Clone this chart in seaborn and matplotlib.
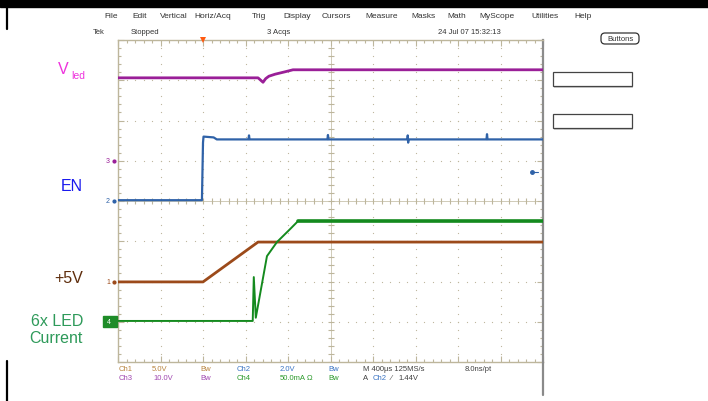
import numpy as np
import matplotlib
matplotlib.use("Agg")
import matplotlib.pyplot as plt
from matplotlib.patches import Rectangle, FancyBboxPatch, Arc
import seaborn as sns

# time axis in ms (400 us/div, 10 div); levels in screen divisions
vled_t = [0.0, 1.318, 1.365, 1.39, 1.42, 1.478, 1.572, 1.647, 4.0]
vled_y = [3.06, 3.06, 2.95, 3.04, 3.10, 3.15, 3.21, 3.26, 3.26]

en_t = [0.0, 0.790, 0.800, 0.805, 0.900, 0.930, 1.228, 1.233, 1.238,
        1.971, 1.976, 1.981, 2.724, 2.727, 2.731, 2.734, 3.468, 3.473, 3.478, 4.0]
en_y = [0.02, 0.02, 1.45, 1.60, 1.58, 1.53, 1.53, 1.63, 1.53,
        1.53, 1.64, 1.53, 1.53, 1.63, 1.45, 1.53, 1.53, 1.66, 1.53, 1.53]

v5_t = [0.0, 0.800, 1.318, 4.0]
v5_y = [-2.01, -2.01, -1.02, -1.02]

led_t = [0.0, 1.268, 1.278, 1.297, 1.402, 1.496, 1.619, 1.694, 4.0]
led_y = [-2.98, -2.98, -1.89, -2.90, -1.37, -1.02, -0.70, -0.50, -0.50]

menu_labels = ["File", "Edit", "Vertical", "Horiz/Acq", "Trig", "Display", "Cursors",
               "Measure", "Masks", "Math", "MyScope", "Utilities", "Help"]
menu_x = [104, 132, 160, 194, 252, 283, 322, 365, 411, 447, 479, 531, 574]

PURPLE = "#9a1f98"
BLUE = "#2f62a8"
BROWN = "#9c4a1a"
GREEN = "#148a1e"
GRID = "#bdb69c"

sns.set_theme(style="white")
plt.rcParams['font.family'] = ['Liberation Sans', 'DejaVu Sans']

fig = plt.figure(figsize=(7.08, 4.02), dpi=100)
fig.patch.set_facecolor("white")

# scope graticule
ax = fig.add_axes([118 / 708, 1 - 363 / 402, 425 / 708, 322 / 402])
ax.set_xlim(0, 4.0)
ax.set_ylim(-4, 4)
ax.set_facecolor("white")
for s in ax.spines.values():
    s.set_color(GRID)
    s.set_linewidth(1.0)
ax.spines["right"].set_color("#8c8c8c")
ax.spines["right"].set_linewidth(1.6)
ax.set_xticks(np.arange(0, 4.01, 0.4))
ax.set_yticks(np.arange(-4, 4.01, 1))
ax.set_xticks(np.arange(0, 4.01, 0.08), minor=True)
ax.set_yticks(np.arange(-4, 4.01, 0.2), minor=True)
ax.tick_params(which="both", direction="in", top=True, right=True, bottom=True, left=True,
               labelbottom=False, labelleft=False, color=GRID, width=0.8)
ax.tick_params(which="major", length=4)
ax.tick_params(which="minor", length=2.5)
ax.grid(False)

# dotted grid lines
gx, gy = np.meshgrid(np.arange(0.4, 3.61, 0.4), np.arange(-4, 4.01, 0.2))
ax.scatter(gx.ravel(), gy.ravel(), s=0.8, color=GRID, linewidths=0, zorder=1)
hx, hy = np.meshgrid(np.arange(0, 4.01, 0.08), np.arange(-3, 3.01, 1))
ax.scatter(hx.ravel(), hy.ravel(), s=0.8, color=GRID, linewidths=0, zorder=1)
# centre crosshair ticks
cy = np.arange(-4, 4.01, 0.2)
ax.plot(np.full_like(cy, 2.0), cy, ls="none", marker="_", ms=5, mew=0.8, color=GRID, zorder=1)
cx = np.arange(0, 4.01, 0.08)
ax.plot(cx, np.zeros_like(cx), ls="none", marker="|", ms=5, mew=0.8, color=GRID, zorder=1)
ax.axvline(2.0, color=GRID, lw=0.5, zorder=1)
ax.axhline(0.0, color=GRID, lw=0.5, zorder=1)

# traces
sns.lineplot(x=vled_t, y=vled_y, ax=ax, color=PURPLE, lw=2.0, sort=False, estimator=None, zorder=3)
sns.lineplot(x=en_t, y=en_y, ax=ax, color=BLUE, lw=1.6, sort=False, estimator=None, zorder=3)
sns.lineplot(x=v5_t, y=v5_y, ax=ax, color=BROWN, lw=2.0, sort=False, estimator=None, zorder=3)
sns.lineplot(x=led_t, y=led_y, ax=ax, color=GREEN, lw=1.4, sort=False, estimator=None, zorder=4)
sns.lineplot(x=led_t[-2:], y=led_y[-2:], ax=ax, color=GREEN, lw=2.6, sort=False, estimator=None, zorder=4)
ax.set_xlabel("")
ax.set_ylabel("")

# overlay in pixel coordinates
ov = fig.add_axes([0, 0, 1, 1])
ov.set_xlim(0, 708)
ov.set_ylim(402, 0)
ov.axis("off")
ov.patch.set_alpha(0)

# black slide bar at top (with glyph fragments of the cut-off title) and edge lines
ov.add_patch(Rectangle((0, 0), 708, 8, color="black", zorder=1))
for gxp in (266, 388):
    ov.add_patch(Arc((gxp, 2), 9, 8, theta1=200, theta2=340, color="white", lw=1.4, zorder=2))
ov.plot([7, 7], [0, 30], color="black", lw=1.6)
ov.plot([7, 7], [362, 402], color="black", lw=1.6)
ov.plot([543, 543], [363, 396], color="#8a8a8a", lw=1.6)

# menu bar
for lab, xx in zip(menu_labels, menu_x):
    ov.text(xx, 16, lab, fontsize=6, color="#333333", va="center", ha="left")
ov.text(93, 33, "Tek", fontsize=5.5, color="#333333", va="center")
ov.text(131, 33, "Stopped", fontsize=5.5, color="#333333", va="center")
ov.text(267, 33, "3 Acqs", fontsize=5.5, color="#333333", va="center")
ov.text(438, 33, "24 Jul 07 15:32:13", fontsize=5.5, color="#333333", va="center")
ov.add_patch(FancyBboxPatch((601, 34), 38, 11, boxstyle="round,pad=0,rounding_size=4",
                            fc="white", ec="#333333", lw=0.9))
ov.text(620, 39.5, "Buttons", fontsize=5.5, color="#333333", va="center", ha="center")

# right side boxes
for top in (73, 115):
    ov.add_patch(Rectangle((554, top + 1), 79, 15, fc="#cfcfcf", ec="none"))
    ov.add_patch(Rectangle((553, top), 79, 14, fc="white", ec="#444444", lw=0.9))

# trigger markers
ov.plot([203], [41], marker="v", ms=5, color="#ff5a10", mew=0)
ov.plot([532, 538], [173, 173], color=BLUE, lw=0.8)
ov.plot([532], [173], marker="o", ms=2.5, color=BLUE)

# channel ground markers
ov.text(108, 162, "3", fontsize=5, color=PURPLE, va="center", ha="center")
ov.plot([114], [162], marker="o", ms=2, color=PURPLE)
ov.text(108, 202, "2", fontsize=5, color=BLUE, va="center", ha="center")
ov.plot([114], [202], marker="o", ms=2, color=BLUE)
ov.text(108, 283, "1", fontsize=5, color=BROWN, va="center", ha="center")
ov.plot([114], [283], marker="o", ms=2, color=BROWN)
ov.add_patch(Rectangle((103, 317), 14, 11, color="#1e8c28"))
ov.text(109, 322.5, "4", fontsize=5, color="white", va="center", ha="center")

# signal labels
ov.text(58, 74, "V", fontsize=11.5, color="#ee33dd", va="baseline", ha="left")
ov.text(71.5, 79, "led", fontsize=7.5, color="#ee33dd", va="baseline", ha="left")
ov.text(83, 191, "EN", fontsize=11.5, color="#1a1aee", va="baseline", ha="right")
ov.text(83, 283, "+5V", fontsize=11.5, color="#5e2d0c", va="baseline", ha="right")
ov.text(83, 326, "6x LED", fontsize=11.5, color="#2e9a5a", va="baseline", ha="right")
ov.text(83, 343, "Current", fontsize=11.5, color="#2e9a5a", va="baseline", ha="right")

# status readout
TAN = "#b8843e"
LILAC = "#a048b0"
CBLUE = "#3a74c4"
CGREEN = "#2c9a2c"
DARK = "#404040"
fs = 5.5
ov.text(119, 370, "Ch1", fontsize=fs, color=TAN, va="center")
ov.text(152, 370, "5.0V", fontsize=fs, color=TAN, va="center")
ov.text(200, 370, "Bw", fontsize=fs, color=TAN, va="center")
ov.text(237, 370, "Ch2", fontsize=fs, color=CBLUE, va="center")
ov.text(280, 370, "2.0V", fontsize=fs, color=CBLUE, va="center")
ov.text(328, 370, "Bw", fontsize=fs, color=CBLUE, va="center")
ov.text(363, 370, "M 400µs 125MS/s", fontsize=fs, color=DARK, va="center")
ov.text(465, 370, "8.0ns/pt", fontsize=fs, color=DARK, va="center")
ov.text(119, 379, "Ch3", fontsize=fs, color=LILAC, va="center")
ov.text(153, 379, "10.0V", fontsize=fs, color=LILAC, va="center")
ov.text(200, 379, "Bw", fontsize=fs, color=LILAC, va="center")
ov.text(237, 379, "Ch4", fontsize=fs, color=CGREEN, va="center")
ov.text(280, 379, "50.0mA", fontsize=fs, color=CGREEN, va="center")
ov.text(307, 379, "Ω", fontsize=fs, color=CGREEN, va="center")
ov.text(328, 379, "Bw", fontsize=fs, color=CGREEN, va="center")
ov.text(363, 379, "A", fontsize=fs, color=DARK, va="center")
ov.text(373, 379, "Ch2", fontsize=fs, color=CBLUE, va="center")
ov.text(391, 379, "⁄", fontsize=fs, color=DARK, va="center")
ov.text(398, 379, "1.44V", fontsize=fs, color=DARK, va="center")

fig.savefig("out.png", dpi=100, facecolor="white")
